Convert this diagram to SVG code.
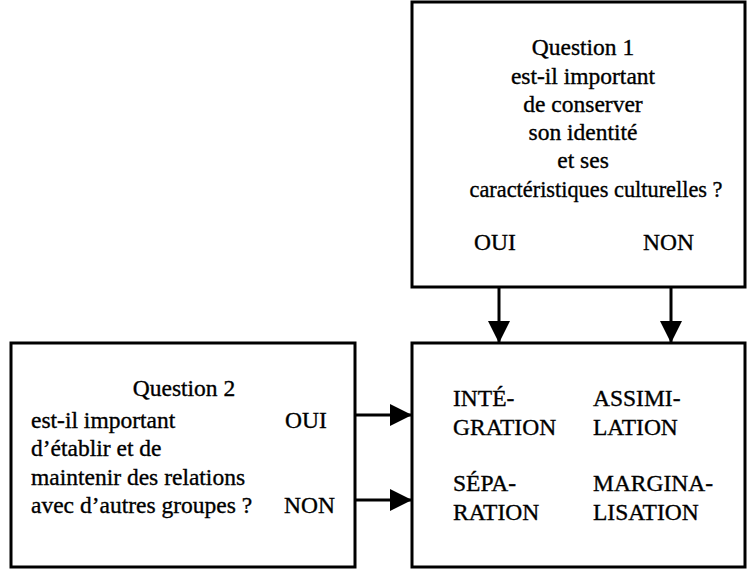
<svg xmlns="http://www.w3.org/2000/svg" width="747" height="570" viewBox="0 0 747 570">
<defs>
<style>
.box{fill:#fff;stroke:#000;stroke-width:3}
.t{font-family:'Liberation Serif','Times New Roman',serif;font-size:23.5px;fill:#000;stroke:#000;stroke-width:0.35}
.c{text-anchor:middle}
.ln{stroke:#000;stroke-width:3;fill:none}
</style>
<marker id="ah" markerUnits="userSpaceOnUse" markerWidth="24" markerHeight="24" viewBox="0 0 24 24" refX="23" refY="12" orient="auto">
<path d="M1,1 L23,12 L1,23 Z" fill="#000"/>
</marker>
</defs>
<rect width="747" height="570" fill="#fff"/>
<g id="connectors">
<line class="ln" x1="499" y1="288" x2="499" y2="343" marker-end="url(#ah)"/>
<line class="ln" x1="671" y1="288" x2="671" y2="343" marker-end="url(#ah)"/>
<line class="ln" x1="356" y1="415" x2="412" y2="415" marker-end="url(#ah)"/>
<line class="ln" x1="356" y1="500" x2="412" y2="500" marker-end="url(#ah)"/>
</g>
<g id="question1">
<rect class="box" x="412" y="2" width="333" height="285"/>
<text class="t c" x="583" y="55">Question 1</text>
<text class="t c" x="583" y="84">est-il important</text>
<text class="t c" x="583" y="112">de conserver</text>
<text class="t c" x="583" y="140">son identité</text>
<text class="t c" x="583" y="168">et ses</text>
<text class="t c" x="596" y="197" textLength="253" lengthAdjust="spacingAndGlyphs">caractéristiques culturelles ?</text>
<text class="t" x="474" y="250">OUI</text>
<text class="t" x="643" y="250">NON</text>
</g>
<g id="question2">
<rect class="box" x="11" y="343" width="344" height="224"/>
<text class="t c" x="184" y="396">Question 2</text>
<text class="t" x="31" y="428">est-il important</text>
<text class="t" x="31" y="456">d’établir et de</text>
<text class="t" x="31" y="485">maintenir des relations</text>
<text class="t" x="31" y="513">avec d’autres groupes ?</text>
<text class="t" x="285" y="428">OUI</text>
<text class="t" x="284" y="513">NON</text>
</g>
<g id="strategies">
<rect class="box" x="412" y="343" width="333" height="224"/>
<text class="t" x="453" y="406">INTÉ-</text>
<text class="t" x="453" y="435">GRATION</text>
<text class="t" x="453" y="491">SÉPA-</text>
<text class="t" x="453" y="520">RATION</text>
<text class="t" x="593" y="406">ASSIMI-</text>
<text class="t" x="593" y="435">LATION</text>
<text class="t" x="593" y="491">MARGINA-</text>
<text class="t" x="593" y="520">LISATION</text>
</g>
</svg>
